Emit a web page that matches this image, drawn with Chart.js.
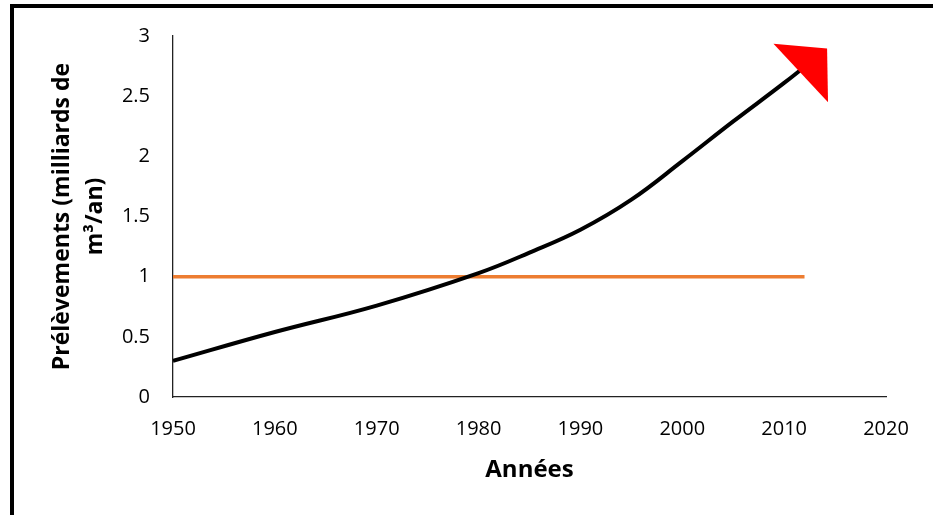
<!DOCTYPE html>
<html>
<head>
<meta charset="utf-8">
<script src="https://cdn.jsdelivr.net/npm/chart.js@4"></script>
<style>
  html, body { margin: 0; padding: 0; background: #fff; overflow: hidden; }
  #wrap { position: relative; width: 933px; height: 515px; }
  #cadre { position: absolute; left: 10px; top: 4px; width: 1000px; height: 600px; border: 4px solid #000; pointer-events: none; }
  canvas { position: absolute; left: 0; top: 0; }
</style>
</head>
<body>
<div id="wrap">
  <canvas id="chart1" width="933" height="515"></canvas>
  <div id="cadre"></div>
</div>
<script>
// donnees (le dernier point = pointe de la fleche)
var annees = [1950, 1960, 1970, 1980, 1985, 1990, 1995, 2000, 2005, 2010, 2014];
var prelevements = [0.30, 0.54, 0.76, 1.03, 1.20, 1.39, 1.64, 1.96, 2.29, 2.61, 2.88];
var anneesSeuil = [1950, 2012];
var seuil = [1, 1];
var yTicks = [0, 0.5, 1, 1.5, 2, 2.5, 3];
var xTicks = [1950, 1960, 1970, 1980, 1990, 2000, 2010, 2020];

function toPoints(xs, ys){
  var pts = [];
  for(let i = 0; i < xs.length; i++){
    pts.push({x: xs[i], y: ys[i]});
  }
  return pts;
}

// fleche rouge : la pointe est sur le dernier point de la courbe
var arrowPlugin = {
  id: 'fleche',
  afterDatasetsDraw(chart){
    var meta = chart.getDatasetMeta(0);
    var last = meta.data[meta.data.length - 1];
    var ang = -43 * Math.PI / 180;
    var dx = Math.cos(ang), dy = Math.sin(ang);
    var len = 36, half = 40;
    var tx = last.x + dx * 3, ty = last.y + dy * 3;
    var mx = tx - dx * len, my = ty - dy * len;
    var ctx = chart.ctx;
    ctx.save();
    ctx.fillStyle = '#ff0000';
    ctx.beginPath();
    ctx.moveTo(tx, ty);
    ctx.lineTo(mx - dy * half, my + dx * half);
    ctx.lineTo(mx + dy * half, my - dx * half);
    ctx.closePath();
    ctx.fill();
    ctx.restore();
  }
};

var police = "'Open Sans', 'DejaVu Sans', sans-serif";

new Chart(document.querySelector('#chart1'), {
  type: 'line',
  data: {
    datasets: [{
      data: toPoints(annees, prelevements),
      borderColor: '#000000',
      borderWidth: 4,
      pointRadius: 0,
      tension: 0.4,
      fill: false
    }, {
      data: toPoints(anneesSeuil, seuil),
      borderColor: '#ED7D31',
      borderWidth: 3.5,
      pointRadius: 0,
      fill: false
    }]
  },
  options: {
    responsive: false,
    animation: false,
    events: [],
    layout: { padding: { left: 0, top: 36, right: 47, bottom: 0 } },
    plugins: { legend: { display: false }, tooltip: { enabled: false } },
    scales: {
      x: {
        type: 'linear',
        min: 1950,
        max: 2020,
        afterBuildTicks: function(scale){ scale.ticks = xTicks.map(v => ({value: v})); },
        afterFit: function(scale){ scale.height = 118; },
        grid: { display: false, drawTicks: false },
        border: { display: true, color: '#222', width: 1.3 },
        ticks: { color: '#000', padding: 20, maxRotation: 0, font: { family: police, size: 20 }, callback: v => String(v) },
        title: { display: true, text: 'Années', color: '#000', padding: { top: 4, bottom: 30 }, font: { family: police, size: 24, weight: 'bold' } }
      },
      y: {
        min: 0,
        max: 3,
        afterBuildTicks: function(scale){ scale.ticks = yTicks.map(v => ({value: v})); },
        afterFit: function(scale){ scale.width = 173; },
        grid: { display: false, drawTicks: false },
        border: { display: true, color: '#222', width: 1.3 },
        ticks: { color: '#000', padding: 23, font: { family: police, size: 20 }, callback: v => String(v) },
        title: { display: true, text: ['Prélèvements (milliards de', 'm³/an)'], color: '#000', padding: { top: 46, bottom: 0 }, font: { family: police, size: 23, weight: 'bold', lineHeight: 1.42 } }
      }
    }
  },
  plugins: [arrowPlugin]
});
</script>
</body>
</html>
